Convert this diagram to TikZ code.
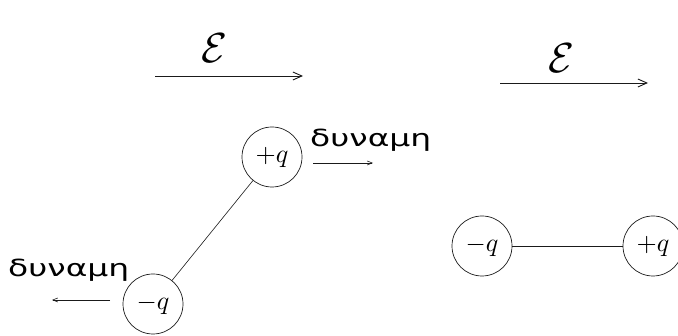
\documentclass[tikz,border=0pt]{standalone}
\usepackage{fontspec}
\usetikzlibrary{arrows.meta}
\newfontfamily\greekfont{DejaVu Sans}[FakeStretch=1.4]
\definecolor{DipoleInk}{HTML}{1A1A1A}
\newcommand\chargetext[1]{\scalebox{2.6}{$#1$}}
\newcommand\fieldtext{\scalebox{4.2}{$\mathcal{E}$}}

\tikzset{
  charge/.style={draw=DipoleInk,circle,minimum size=60pt,inner sep=0pt,line width=0.7pt},
  fieldarrow/.style={DipoleInk,line width=0.9pt,-{Straight Barb[length=9pt,width=8pt]}},
  forcearrow/.style={DipoleInk,line width=0.6pt,-{Straight Barb[length=5pt,width=4pt]}},
  forcelabel/.style={inner sep=0pt,anchor=base west,font=\greekfont\fontsize{23.5}{24}\selectfont},
  fieldlabel/.style={inner sep=0pt}
}

\begin{document}
\begin{tikzpicture}[x=1pt,y=-1pt]
    \useasboundingbox (0,0) rectangle (678,336);
    % tilted dipole
    \coordinate (eAs) at (155,76);
    \coordinate (eAe) at (303,76);
    \draw[fieldarrow] (eAs) -- (eAe);
    \node[fieldlabel] (eA) at (214,48) {\fieldtext};
    \node[charge] (pA) at (272,157) {\chargetext{+q}};
    \node[charge] (mA) at (153,304) {\chargetext{-q}};
    \draw[DipoleInk,line width=0.6pt] (pA) -- (mA);
    \node[forcelabel] (fA) at (310,147) {δυναμη};
    \coordinate (fAs) at (313,163);
    \coordinate (fAe) at (373,163);
    \draw[forcearrow] (fAs) -- (fAe);
    \node[forcelabel] (fB) at (8,277) {δυναμη};
    \coordinate (fBs) at (110,300);
    \coordinate (fBe) at (52,300);
    \draw[forcearrow] (fBs) -- (fBe);
    % aligned dipole
    \coordinate (eBs) at (500,83);
    \coordinate (eBe) at (648,83);
    \draw[fieldarrow] (eBs) -- (eBe);
    \node[fieldlabel] (eB) at (561,58) {\fieldtext};
    \node[charge] (mB) at (482,246) {\chargetext{-q}};
    \node[charge] (pB) at (653,246) {\chargetext{+q}};
    \draw[DipoleInk,line width=0.6pt] (mB) -- (pB);
\end{tikzpicture}
\end{document}
